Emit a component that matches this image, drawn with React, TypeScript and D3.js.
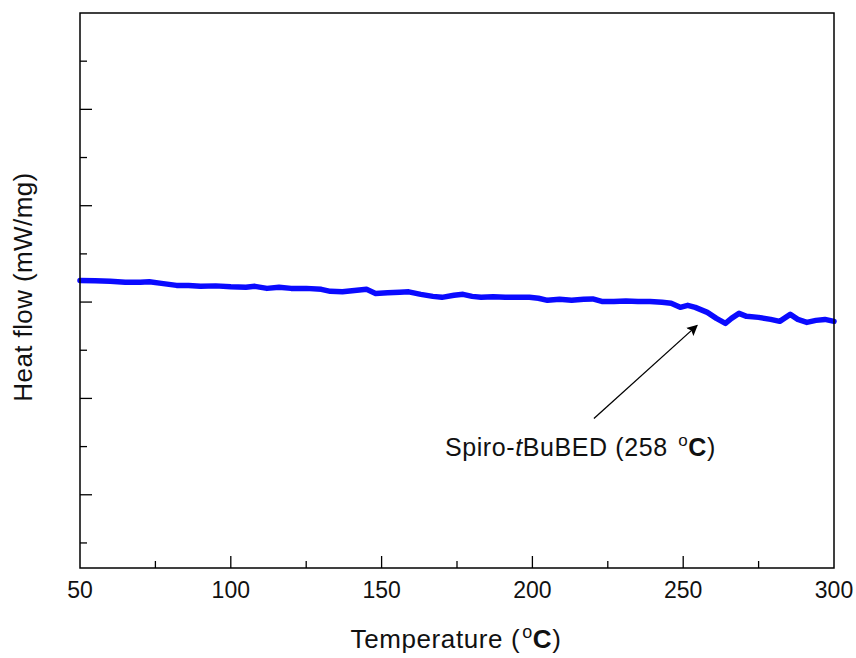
import React, { useEffect, useRef } from 'react';
import * as d3 from 'd3';

// DSC trace, temperature (°C) vs heat flow (arbitrary units)
const temps = [50, 55, 60, 65, 70, 73, 77, 82, 86, 90, 95, 100, 105, 108, 112, 116, 120, 125, 130, 133, 137, 141, 145, 148, 152, 156, 159, 163, 167, 170, 174, 177, 180, 183, 187, 191, 195, 199, 202, 205, 209, 213, 217, 220, 223, 227, 231, 235, 239, 243, 246, 249, 251.5, 254, 258, 261, 264, 266, 268.5, 271, 275, 279, 282, 285.5, 288, 291, 294, 297, 300]
const heatFlow = [1.225, 1.22, 1.215, 1.205, 1.205, 1.21, 1.194, 1.173, 1.173, 1.163, 1.168, 1.158, 1.153, 1.163, 1.142, 1.153, 1.142, 1.142, 1.132, 1.111, 1.106, 1.121, 1.132, 1.09, 1.096, 1.101, 1.106, 1.08, 1.059, 1.049, 1.07, 1.08, 1.059, 1.049, 1.054, 1.049, 1.049, 1.049, 1.039, 1.018, 1.028, 1.018, 1.028, 1.033, 1.007, 1.007, 1.012, 1.007, 1.007, 0.997, 0.987, 0.945, 0.966, 0.945, 0.893, 0.831, 0.779, 0.831, 0.883, 0.852, 0.841, 0.82, 0.8, 0.872, 0.82, 0.789, 0.81, 0.82, 0.8]

const xTicks = [50, 100, 150, 200, 250, 300]
const xMinor = [75, 125, 175, 225, 275]
const yTicks = [-1, 0, 1, 2, 3]
const yMinor = [-1.5, -0.5, 0.5, 1.5, 2.5, 3.5]

// annotation: arrow tail/tip and label anchor in data units
const arrowFrom = [220.4, -0.208]
const arrowTo = [254.6, 0.758]
const labelAt = [171, -0.595]

const W = 856, H = 658
const margin = { top: 13, right: 22, bottom: 90, left: 80 }
const FONT = '"Liberation Sans", Arial, sans-serif'

const App = () => {
  const ref = useRef<SVGSVGElement>(null)

  useEffect(() => {
    const svg = d3.select(ref.current)
    svg.selectAll('*').remove()

    const x = d3.scaleLinear().domain([50, 300]).range([margin.left, W - margin.right])
    const y = d3.scaleLinear().domain([-1.76, 4.0]).range([H - margin.bottom, margin.top])
    const bottom = H - margin.bottom

    svg.append('defs').append('marker')
      .attr('id', 'arrowHead')
      .attr('viewBox', '0 0 10 10')
      .attr('refX', 9).attr('refY', 5)
      .attr('markerWidth', 11).attr('markerHeight', 11)
      .attr('markerUnits', 'userSpaceOnUse')
      .attr('orient', 'auto')
      .append('path')
      .attr('d', 'M0,0 L10,5 L0,10 L2,5 z')
      .attr('fill', '#000')

    // inward ticks
    const g = svg.append('g').attr('stroke', '#000').attr('stroke-width', 1.3)
    g.selectAll('.xmaj').data(xTicks.slice(1, -1)).join('line')
      .attr('x1', d => x(d)).attr('x2', d => x(d))
      .attr('y1', bottom).attr('y2', bottom - 12)
    g.selectAll('.xmin').data(xMinor).join('line')
      .attr('x1', d => x(d)).attr('x2', d => x(d))
      .attr('y1', bottom).attr('y2', bottom - 7)
    g.selectAll('.ymaj').data(yTicks).join('line')
      .attr('x1', margin.left).attr('x2', margin.left + 12)
      .attr('y1', d => y(d)).attr('y2', d => y(d))
    g.selectAll('.ymin').data(yMinor).join('line')
      .attr('x1', margin.left).attr('x2', margin.left + 7)
      .attr('y1', d => y(d)).attr('y2', d => y(d))

    // the trace
    const line = d3.line<number>()
      .x((d, i) => x(temps[i]))
      .y(d => y(d))
      .curve(d3.curveLinear)
    svg.append('path')
      .datum(heatFlow)
      .attr('d', line)
      .attr('fill', 'none')
      .attr('stroke', '#0a0aff')
      .attr('stroke-width', 5.5)
      .attr('stroke-linejoin', 'round')
      .attr('stroke-linecap', 'round')

    // frame
    svg.append('rect')
      .attr('x', margin.left).attr('y', margin.top)
      .attr('width', W - margin.left - margin.right)
      .attr('height', H - margin.top - margin.bottom)
      .attr('fill', 'none').attr('stroke', '#000').attr('stroke-width', 1.5)

    // tick labels
    svg.append('g').selectAll('text').data(xTicks).join('text')
      .attr('x', d => x(d)).attr('y', bottom + 30)
      .attr('text-anchor', 'middle')
      .style('font-family', FONT).style('font-size', '23px')
      .attr('fill', '#111')
      .text(d => d)

    // axis titles
    const xt = svg.append('text')
      .attr('x', 456).attr('y', 648)
      .attr('text-anchor', 'middle')
      .style('font-family', FONT).style('font-size', '26px')
      .style('letter-spacing', '0.6px').attr('fill', '#111')
    xt.append('tspan').text('Temperature (')
    xt.append('tspan').attr('dx', 2).attr('dy', -10).style('font-size', '18px').text('o')
    xt.append('tspan').attr('dy', 10).style('font-weight', 'bold').text('C')
    xt.append('tspan').text(')')

    svg.append('text')
      .attr('transform', `translate(32,287) rotate(-90)`)
      .attr('text-anchor', 'middle')
      .style('font-family', FONT).style('font-size', '26px')
      .style('letter-spacing', '0.4px').attr('fill', '#111')
      .text('Heat flow (mW/mg)')

    // annotation
    svg.append('line')
      .attr('x1', x(arrowFrom[0])).attr('y1', y(arrowFrom[1]))
      .attr('x2', x(arrowTo[0])).attr('y2', y(arrowTo[1]))
      .attr('stroke', '#000').attr('stroke-width', 1.3)
      .attr('marker-end', 'url(#arrowHead)')

    const lab = svg.append('text')
      .attr('x', x(labelAt[0])).attr('y', y(labelAt[1]))
      .style('font-family', FONT).style('font-size', '25px')
      .style('letter-spacing', '0.6px').attr('fill', '#111')
    lab.append('tspan').text('Spiro-')
    lab.append('tspan').style('font-style', 'italic').text('t')
    lab.append('tspan').text('BuBED (258 ')
    lab.append('tspan').attr('dx', 3).attr('dy', -10).style('font-size', '17px').text('o')
    lab.append('tspan').attr('dy', 10).style('font-weight', 'bold').text('C')
    lab.append('tspan').text(')')
  }, [])

  return (
    <svg ref={ref} width={W} height={H}
      style={{ position: 'absolute', left: 0, top: 0, background: '#fff' }} />
  )
}

export default App
